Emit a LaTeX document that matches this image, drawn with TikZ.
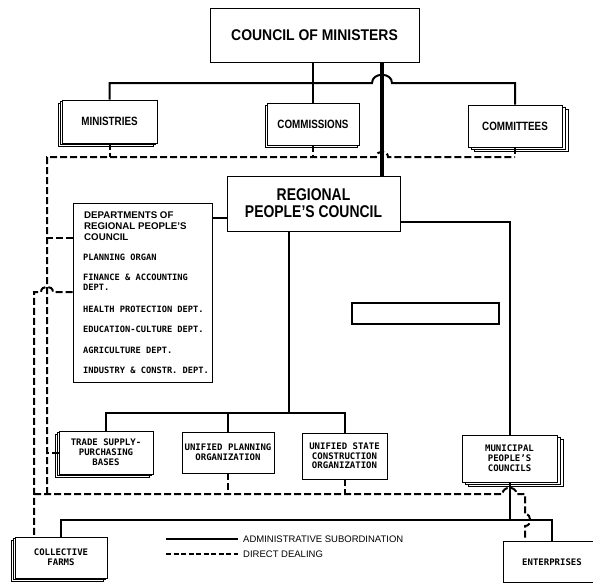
\documentclass[tikz,border=0pt]{standalone}
\usepackage{fontspec}
\usetikzlibrary{shadows,calc}
\newfontfamily\hdfont[FakeStretch=0.82]{Liberation Sans}
\newfontfamily\cmfont[FakeStretch=0.9]{Liberation Sans}
\newfontfamily\dhfont{Liberation Sans}
\newfontfamily\tyfont{DejaVu Sans Mono}
\newfontfamily\lgfont{Liberation Sans}
\begin{document}
\begin{tikzpicture}[x=1pt,y=-1pt,
  box/.style={draw,line width=0.9pt,fill=white,inner sep=0pt,align=center},
  hd/.style={font=\hdfont\bfseries\fontsize{12}{13}\selectfont},
  ty/.style={font=\tyfont\bfseries\fontsize{9}{10}\selectfont},
  item/.style={anchor=base west,inner sep=0pt,font=\tyfont\bfseries\fontsize{8.7}{10}\selectfont},
  stackL/.style={double copy shadow={shadow xshift=-2pt,shadow yshift=-1.6pt}},
  stackR/.style={double copy shadow={shadow xshift=3pt,shadow yshift=-2pt}},
  stackS/.style={copy shadow={shadow xshift=-1.5pt,shadow yshift=-2pt}},
  sol/.style={line width=2pt},
  thk/.style={line width=3.8pt},
  dsh/.style={line width=2pt,dash pattern=on 7pt off 3pt}]
\useasboundingbox (0,0) rectangle (593,584);
\clip (0,0) rectangle (593,584);

% boxes
\node[box,font=\cmfont\bfseries\fontsize{15.5}{17}\selectfont,minimum width=209pt,minimum height=54pt] (council) at (314.5,35) {COUNCIL OF MINISTERS};
\node[box,hd,stackL,minimum width=95pt,minimum height=43pt] (ministries) at (109.5,121.5) {MINISTRIES};
\node[box,hd,stackS,minimum width=92pt,minimum height=42pt] (commissions) at (313,124) {COMMISSIONS};
\node[box,hd,stackR,minimum width=94pt,minimum height=42pt] (committees) at (515,126) {COMMITTEES};
\node[box,font=\hdfont\bfseries\fontsize{17}{17}\selectfont,minimum width=173pt,minimum height=55pt] (regional) at (313.5,203.5) {REGIONAL\\PEOPLE’S COUNCIL};

\node[box,minimum width=139pt,minimum height=179pt] (depts) at (142.5,292.5) {};
\node[anchor=north west,inner sep=0pt,align=left,font=\dhfont\bfseries\fontsize{9.7}{11}\selectfont] (dhead) at (84,211.5) {DEPARTMENTS OF\\REGIONAL PEOPLE’S\\COUNCIL};
\node[item] (dp1) at (83,260) {PLANNING ORGAN};
\node[item] (dp2) at (83,280) {FINANCE \& ACCOUNTING};
\node[item] (dp2b) at (83,290) {DEPT.};
\node[item] (dp3) at (83,312) {HEALTH PROTECTION DEPT.};
\node[item] (dp4) at (83,332) {EDUCATION-CULTURE DEPT.};
\node[item] (dp5) at (83,353) {AGRICULTURE DEPT.};
\node[item] (dp6) at (83,373) {INDUSTRY \& CONSTR. DEPT.};

\node[draw,line width=1.6pt,minimum width=147pt,minimum height=21pt,inner sep=0pt] (blank) at (425.5,313.5) {};

\node[box,ty,stackL,minimum width=94pt,minimum height=43pt] (trade) at (106,452.5) {TRADE SUPPLY-\\PURCHASING\\BASES};
\node[box,ty,minimum width=92pt,minimum height=41pt] (upo) at (228,452.5) {UNIFIED PLANNING\\ORGANIZATION};
\node[box,ty,font=\tyfont\bfseries\fontsize{9}{9.5}\selectfont,minimum width=85pt,minimum height=46pt] (usco) at (344.5,456) {UNIFIED STATE\\CONSTRUCTION\\ORGANIZATION};
\node[box,ty,stackR,minimum width=95pt,minimum height=47pt] (municipal) at (509.5,458.5) {MUNICIPAL\\PEOPLE’S\\COUNCILS};
\node[box,ty,stackL,minimum width=92pt,minimum height=41pt] (farms) at (61,557.5) {COLLECTIVE\\FARMS};
\node[box,minimum width=97pt,minimum height=41pt] (enterprises) at (551.5,561.5) {};
\node[ty,inner sep=0pt] (entext) at (552,562) {ENTERPRISES};

% helper coordinates
\coordinate (tb) at (0,83);
\coordinate (tx) at (382,0);
\coordinate (dr) at (0,218);
\coordinate (mb) at (0,413);
\coordinate (rx) at (289,0);
\coordinate (rm) at (0,222);
\coordinate (bb) at (0,520);
\coordinate (td) at (0,157);
\coordinate (lx) at (47,0);
\coordinate (ox) at (34,0);
\coordinate (ld) at (0,494);
\coordinate (d1y) at (0,238);
\coordinate (d2y) at (0,292);
\coordinate (ex) at (525,0);

% solid connectors
\draw[sol] (council.south -| commissions.north) -- (commissions.north);
\draw[sol] (ministries.north) -- (ministries.north |- tb) -- ($(tx |- tb)+(-10,0)$)
  to[out=90,in=90,looseness=1.4] ($(tx |- tb)+(10,0)$) -- (committees.north |- tb) -- (committees.north);
\draw[thk] (council.south -| tx) -- (regional.north -| tx);
\draw[sol] (depts.east |- dr) -- (regional.west |- dr);
\draw[sol] (regional.south -| rx) -- (rx |- mb);
\draw[sol] (trade.north) -- (trade.north |- mb) -- (usco.north |- mb) -- (usco.north);
\draw[sol] (upo.north |- mb) -- (upo.north);
\draw[sol] (regional.east |- rm) -| (municipal.north);
\draw[sol] (municipal.south) -- (municipal.south |- bb);
\draw[sol] (farms.north) -- (farms.north |- bb) -- (enterprises.north |- bb) -- (enterprises.north);

% dashed connectors
\draw[dsh] (ministries.south) -- (ministries.south |- td);
\draw[dsh] (commissions.south) -- (commissions.south |- td);
\draw[dsh] (committees.south) -- (committees.south |- td);
\draw[dsh] (lx |- ld) -- (lx |- td) -- ($(tx |- td)+(-6,0)$)
  to[out=90,in=90,looseness=1.5] ($(tx |- td)+(6,0)$) -- (committees.south |- td);
\draw[dsh] (depts.west |- d1y) -- (lx |- d1y);
\draw[dsh] (depts.west |- d2y) -- ($(lx |- d2y)+(6,0)$)
  to[out=90,in=90,looseness=1.5] ($(lx |- d2y)+(-6,0)$) -- (ox |- d2y) -- (farms.north -| ox);
\draw[dsh] (trade.west) -- (trade.west -| lx);
\draw[dsh] (upo.south) -- (upo.south |- ld);
\draw[dsh] (usco.south) -- (usco.south |- ld);
\draw[dsh] (ox |- ld) -- ($(municipal.south |- ld)+(-7,0)$)
  to[out=90,in=90,looseness=1.5] ($(municipal.south |- ld)+(7,0)$) -- (ex |- ld)
  -- ($(ex |- bb)+(0,-6)$) to[out=0,in=0,looseness=1.5] ($(ex |- bb)+(0,6)$) -- (enterprises.north -| ex);

% legend
\coordinate (la) at (166,539);
\coordinate (lb) at (238,539);
\coordinate (lc) at (166,554);
\coordinate (le) at (238,554);
\draw[sol] (la) -- (lb);
\draw[line width=2pt,dash pattern=on 5pt off 2.5pt] (lc) -- (le);
\node[anchor=west,inner sep=0pt,font=\lgfont\fontsize{9.5}{11}\selectfont] (lt1) at (243,539) {ADMINISTRATIVE SUBORDINATION};
\node[anchor=west,inner sep=0pt,font=\lgfont\fontsize{9.5}{11}\selectfont] (lt2) at (243,554) {DIRECT DEALING};
\end{tikzpicture}
\end{document}
